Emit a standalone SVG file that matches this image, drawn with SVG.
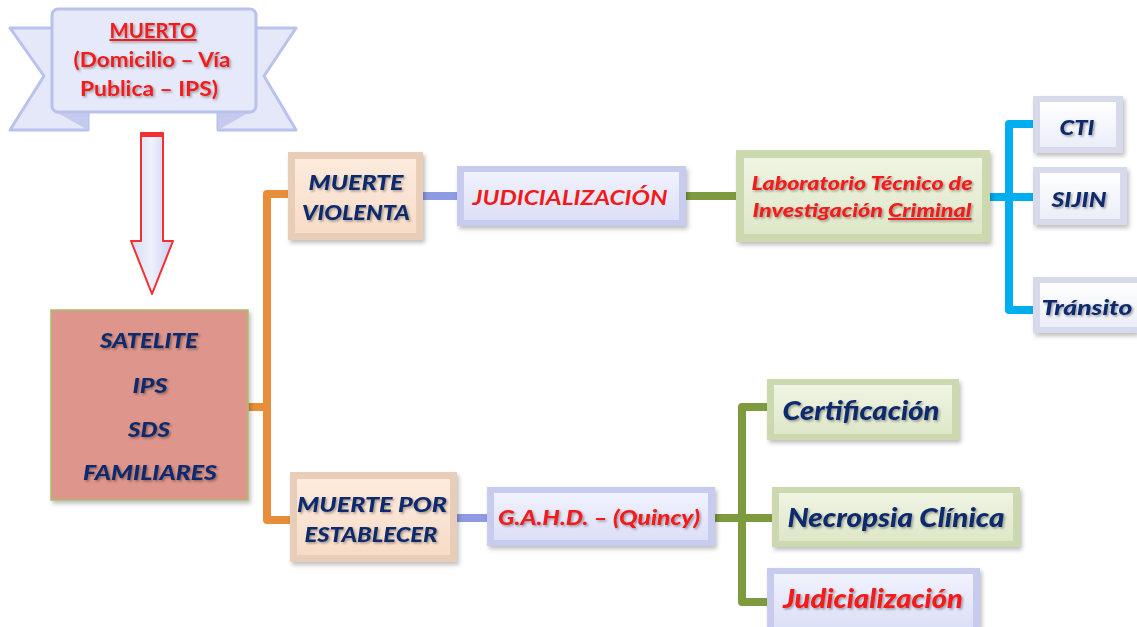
<svg xmlns="http://www.w3.org/2000/svg" width="1137" height="627" viewBox="0 0 1137 627">
<defs>
<filter id="sh" x="-10%" y="-10%" width="125%" height="130%"><feDropShadow dx="2" dy="3" stdDeviation="2" flood-color="#000" flood-opacity="0.25"/></filter>
<filter id="tsh" x="-5%" y="-20%" width="115%" height="150%"><feDropShadow dx="1.5" dy="1.5" stdDeviation="1" flood-color="#000" flood-opacity="0.35"/></filter>
<linearGradient id="gPeach" x1="0" y1="0" x2="0" y2="1"><stop offset="0" stop-color="#FDEBDD"/><stop offset="1" stop-color="#F7DCC8"/></linearGradient>
<linearGradient id="gLav" x1="0" y1="0" x2="0" y2="1"><stop offset="0" stop-color="#F1F2FD"/><stop offset="1" stop-color="#DCE0F7"/></linearGradient>
<linearGradient id="gGreen" x1="0" y1="0" x2="0" y2="1"><stop offset="0" stop-color="#F0F4E3"/><stop offset="1" stop-color="#DEE7C8"/></linearGradient>
<linearGradient id="gWhite" x1="0" y1="0" x2="0" y2="1"><stop offset="0" stop-color="#FFFFFF"/><stop offset="1" stop-color="#ECEEF8"/></linearGradient>
<linearGradient id="gArrow" x1="0" y1="0" x2="1" y2="0"><stop offset="0" stop-color="#D9DDF6"/><stop offset="0.5" stop-color="#EEF0FC"/><stop offset="1" stop-color="#C9CEF0"/></linearGradient>
<style>
.t{font-family:Lato,"Open Sans","Liberation Sans",sans-serif;font-weight:900;font-style:italic;text-anchor:middle}
.navy{fill:#102A6C}
.red{fill:#F21A1A}
.oPeach{fill:#E8CDB8}
.oLav{fill:#C7CCEE}
.oGreen{fill:#CCD9AE}
.oWhite{fill:#D6DAEB}
.con{fill:none;stroke-width:8;stroke-linejoin:round}
</style>
</defs>

<g id="banner">
<polygon points="10,28 56,28 56,112 88,112 88,130 10,130 44,76" fill="#E5E8F8" stroke="#B9C2EC" stroke-width="3" stroke-linejoin="round"/>
<polygon points="296,28 250,28 250,112 218,112 218,130 296,130 264,76" fill="#E5E8F8" stroke="#B9C2EC" stroke-width="3" stroke-linejoin="round"/>
<polygon points="56,112 88,112 88,130" fill="#C4CBEE"/>
<polygon points="250,112 218,112 218,130" fill="#C4CBEE"/>
<rect x="52" y="9" width="204" height="103" rx="6" fill="#E6E9F9" stroke="#B9C2EC" stroke-width="3"/>
<g class="t red" style="font-style:normal;font-weight:bold" filter="url(#tsh)" font-size="20">
<text x="153" y="38" text-decoration="underline" textLength="87" lengthAdjust="spacingAndGlyphs">MUERTO</text>
<text x="152" y="67" textLength="157" lengthAdjust="spacingAndGlyphs">(Domicilio – Vía</text>
<text x="149" y="96" textLength="138" lengthAdjust="spacingAndGlyphs">Publica – IPS)</text>
</g>
</g>

<g id="arrow">
<polygon points="141,133 163,133 163,241 173,241 152,294 131,241 141,241" fill="url(#gArrow)" stroke="#F23030" stroke-width="2" stroke-linejoin="round"/>
<rect x="141" y="132" width="22" height="5" fill="#F23030"/>
</g>

<g id="connectors">
<path class="con" stroke="#E88E3A" d="M248,407 H267 M288,194 H267 V520 H290"/>
<path class="con" stroke="#8E9BE3" d="M422,196 H458 M457,518 H488"/>
<path class="con" stroke="#7E9A3E" d="M686,196 H737 M715,518 H772 M767,407 H742 V602 H767"/>
<path class="con" stroke="#00AEEF" d="M990,197 H1033 M1033,124 H1009 V310 H1033"/>
</g>

<g id="satelite">
<rect x="51" y="310" width="197" height="190" fill="#DE958B" stroke="#A6BE6C" stroke-width="1.5" filter="url(#sh)"/>
<g class="t navy" font-size="21" filter="url(#tsh)">
<text x="149" y="348" textLength="98" lengthAdjust="spacingAndGlyphs">SATELITE</text>
<text x="150" y="393" textLength="35" lengthAdjust="spacingAndGlyphs">IPS</text>
<text x="149" y="437" textLength="42" lengthAdjust="spacingAndGlyphs">SDS</text>
<text x="150" y="480" textLength="134" lengthAdjust="spacingAndGlyphs">FAMILIARES</text>
</g>
</g>

<g id="muerte-violenta">
<rect class="oPeach" x="288" y="152" width="135" height="88" filter="url(#sh)"/>
<rect x="295" y="159" width="121" height="74" fill="url(#gPeach)"/>
<g class="t navy" font-size="21" filter="url(#tsh)">
<text x="356" y="190" textLength="95" lengthAdjust="spacingAndGlyphs">MUERTE</text>
<text x="356" y="220" textLength="108" lengthAdjust="spacingAndGlyphs">VIOLENTA</text>
</g>
</g>

<g id="judicializacion-1">
<rect class="oLav" x="457" y="166" width="229" height="60" filter="url(#sh)"/>
<rect x="464" y="172" width="215" height="48" fill="url(#gLav)"/>
<text class="t red" x="570" y="205" font-size="21" style="font-weight:bold" textLength="195" lengthAdjust="spacingAndGlyphs">JUDICIALIZACIÓN</text>
</g>

<g id="laboratorio">
<rect class="oGreen" x="736" y="150" width="254" height="92" filter="url(#sh)"/>
<rect x="744" y="158" width="238" height="76" fill="url(#gGreen)"/>
<g class="t red" font-size="19" filter="url(#tsh)">
<text x="862" y="190" textLength="221" lengthAdjust="spacingAndGlyphs">Laboratorio Técnico de</text>
<text x="862" y="217" textLength="219" lengthAdjust="spacingAndGlyphs">Investigación <tspan text-decoration="underline">Criminal</tspan></text>
</g>
</g>

<g id="cti">
<rect class="oWhite" x="1033" y="96" width="90" height="57" filter="url(#sh)"/>
<rect x="1040" y="102" width="76" height="45" fill="url(#gWhite)"/>
<text class="t navy" x="1077" y="135" font-size="21" filter="url(#tsh)" textLength="35" lengthAdjust="spacingAndGlyphs">CTI</text>
</g>

<g id="sijin">
<rect class="oWhite" x="1033" y="167" width="94" height="58" filter="url(#sh)"/>
<rect x="1040" y="173" width="80" height="46" fill="url(#gWhite)"/>
<text class="t navy" x="1079" y="207" font-size="21" filter="url(#tsh)" textLength="55" lengthAdjust="spacingAndGlyphs">SIJIN</text>
</g>

<g id="transito">
<rect class="oWhite" x="1033" y="277" width="104" height="56" filter="url(#sh)"/>
<rect x="1040" y="283" width="97" height="44" fill="url(#gWhite)"/>
<text class="t navy" x="1087" y="315" font-size="21" filter="url(#tsh)" textLength="91" lengthAdjust="spacingAndGlyphs">Tránsito</text>
</g>

<g id="muerte-por-establecer">
<rect class="oPeach" x="290" y="472" width="167" height="90" filter="url(#sh)"/>
<rect x="297" y="479" width="153" height="76" fill="url(#gPeach)"/>
<g class="t navy" font-size="21" filter="url(#tsh)">
<text x="372" y="512" textLength="150" lengthAdjust="spacingAndGlyphs">MUERTE POR</text>
<text x="371" y="542" textLength="133" lengthAdjust="spacingAndGlyphs">ESTABLECER</text>
</g>
</g>

<g id="gahd">
<rect class="oLav" x="487" y="487" width="228" height="59" filter="url(#sh)"/>
<rect x="494" y="493" width="214" height="47" fill="url(#gLav)"/>
<text class="t red" x="599" y="525" font-size="20" filter="url(#tsh)" textLength="202" lengthAdjust="spacingAndGlyphs">G.A.H.D. – (Quincy)</text>
</g>

<g id="certificacion">
<rect class="oGreen" x="767" y="379" width="192" height="61" filter="url(#sh)"/>
<rect x="774" y="385" width="178" height="49" fill="url(#gGreen)"/>
<text class="t navy" x="861" y="420" font-size="26" filter="url(#tsh)" textLength="157" lengthAdjust="spacingAndGlyphs">Certificación</text>
</g>

<g id="necropsia">
<rect class="oGreen" x="772" y="487" width="248" height="60" filter="url(#sh)"/>
<rect x="779" y="493" width="234" height="48" fill="url(#gGreen)"/>
<text class="t navy" x="896" y="527" font-size="26" filter="url(#tsh)" textLength="217" lengthAdjust="spacingAndGlyphs">Necropsia Clínica</text>
</g>

<g id="judicializacion-2">
<rect class="oLav" x="767" y="568" width="213" height="59" filter="url(#sh)"/>
<rect x="774" y="574" width="199" height="53" fill="url(#gLav)"/>
<text class="t red" x="873" y="608" font-size="26" filter="url(#tsh)" textLength="180" lengthAdjust="spacingAndGlyphs">Judicialización</text>
</g>
</svg>
